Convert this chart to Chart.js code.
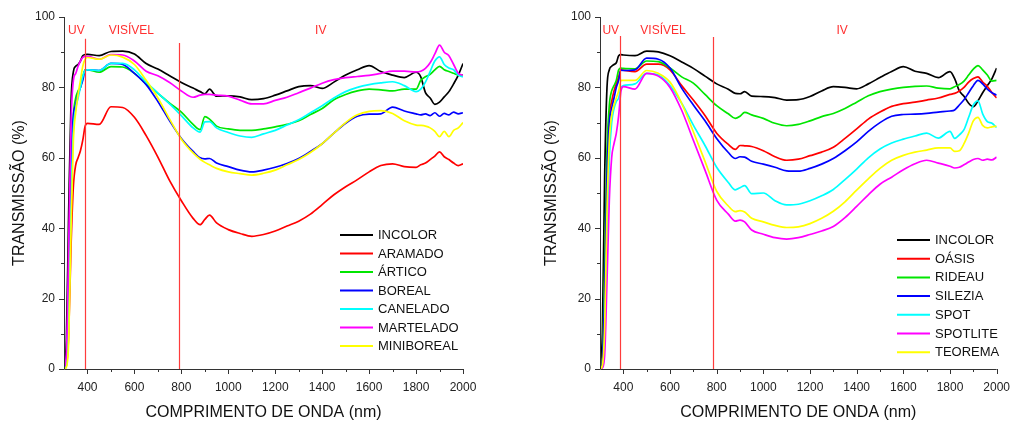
<!DOCTYPE html>
<html>
<head>
<meta charset="utf-8">
<script src="https://cdn.jsdelivr.net/npm/chart.js@4.4.1/dist/chart.umd.min.js"></script>
<style>
  body { margin: 0; background: #fff; }
  #wrap { position: relative; width: 1021px; height: 423px; }
  canvas { position: absolute; top: 0; }
</style>
</head>
<body>
<div id="wrap">
  <canvas id="left" width="510" height="423" style="left:0"></canvas>
  <canvas id="right" width="511" height="423" style="left:510px"></canvas>
</div>
<script>
// wavelength grid (nm), shared by every curve
const wavelengths = [300,310,320,330,340,350,360,370,380,390,400,
  450,500,550,600,650,700,750,800,850,
  880,900,920,950,
  1000,1050,1100,1150,1200,1250,1300,1350,1400,1450,1500,1550,1600,1650,1700,1750,1800,
  1820,1840,1860,1880,1900,1920,1940,1960,1980,2000];

// left panel
const incolorA = [0.5,8,45,76,84.5,86,86.5,87.5,89,89.3,89.4,
  89,90.2,90.3,89.5,86.8,85.2,83.3,81.4,79.8,
  78.8,78.2,79.5,77.5,
  77.6,77.3,76.5,76.8,77.8,79,80.2,80.5,79.7,81.5,83.5,85,86.2,84.5,83.5,82.8,84.3,
  83,78.5,77,75.2,75.8,77.3,78.8,81,83.5,86.8];
const aramado = [0,1,10,35,52,58,60,62,65,69,69.8,
  69.5,74.5,74.3,71.5,66.3,60.2,53.5,47.8,42.8,
  41,42.5,43.7,41.5,
  39.6,38.5,37.7,38.2,39.2,40.6,42,44,46.7,49.5,51.8,53.8,56,57.8,58.3,57.5,57.3,
  58,58.5,59.5,60.5,61.7,60.3,59.5,58.5,57.8,58.3];
const artico = [0,2,20,55,72,77,79,80,83,85,85,
  84.3,85.9,85.8,84,81,78.3,75.5,73,69.5,
  68,71.7,71,69,
  68.2,67.8,67.8,68.2,68.8,69.5,70.5,72.3,74,76.5,78,79,79.5,79.3,79,79.5,79.5,
  82,83,83.7,85,86,85,84.5,84,83.5,83.6];
const boreal = [0,2,25,58,72,75,78,80,82,84.8,85,
  84.8,86.8,86.5,84,80.8,76,70.5,65.5,61.8,
  60,59.7,59.8,58.5,
  57.5,56.5,56,56.5,57.3,58.4,59.8,61.8,64,67,69.8,71.8,72.4,72.5,74.4,73.3,72.5,
  72.2,72.5,72,72.8,71.8,72.6,72.2,73,72.5,72.8];
const canelado = [0,1,15,48,68,74,77,80,83,84.8,85,
  84.8,86.8,86.8,85,81.5,78.4,75.3,72,68.5,
  67.3,70.2,70.3,68.5,
  67.2,66.2,65.8,66.8,67.8,69.3,70.8,72.8,74.8,77,78.8,80,80.8,81.3,81.6,80.5,78.8,
  79.5,81.5,84.5,87.5,88.7,86.5,85.5,85,83.5,83];
const martelado = [0.3,4,35,70,82,84,86,87.5,88.5,88.8,88.8,
  88,89.3,89.2,87.5,84.6,83.3,81.4,79,77.2,
  77.8,78,78,77.8,
  77.5,76.4,75.3,75.3,76.3,77.2,78.5,79.8,81.2,82.2,82.8,83.1,83.4,84,84.6,84.6,84.4,
  84.6,85.4,87,89.5,92,90,89,86.5,84,83.5];
const miniboreal = [0,0.5,8,40,65,73,78,82,86,88,88.5,
  88,89.2,88.6,86.5,82,77,71,65.3,61.4,
  59.6,58.7,58,57,
  56,55.5,55.1,55.6,56.5,58,59.5,61.5,64,67,70,72.2,73.2,73.4,72.6,70.5,69.3,
  69.2,69,68.5,67.5,66,67.5,66,67.8,68.5,70];

// right panel
const incolorB = [0.5,10,55,80,85,86,86.5,87,89,89.3,89.2,
  89,90.3,90.1,89,87.2,85.4,83.2,81,79.5,
  78.3,78.2,78.8,77.5,
  77.4,77.1,76.4,76.5,77.4,79,80.2,80,79.6,81,82.8,84.5,85.9,84.6,84,82.8,84.5,
  82.5,79,77.5,75.5,74.5,76.2,78.5,80.5,82.5,85.5];
const oasis = [0,2,25,58,72,76,79,81,83,85,84.9,
  84.5,86.6,86.6,85,80.5,76.4,72,67,63.8,
  62.4,63.5,63.4,63.2,
  62,60.3,59.3,59.6,60.6,61.6,63,65.5,68.2,71,73,74.6,75.4,75.8,76.4,77,78,
  78.3,79,80,81.5,82.5,83,81.5,80.3,78.5,77];
const rideau = [0,2,30,62,75,79,80.5,82,85,85.5,85.4,
  85.3,87.5,87.3,85.5,83,81.2,78,74.8,72.5,
  71.2,71.8,72.9,72.2,
  71.2,69.8,69.1,69.5,70.5,71.7,72.6,74,75.8,77.6,78.8,79.5,80,80.3,80.4,79.8,79.6,
  80.2,80.8,81.8,83.5,85.2,86.2,85,83.5,81.8,82];
const silezia = [0,1.5,22,55,70,74,77,80,82,85,84.8,
  85,88.3,88,85.5,79.8,75,70.5,65.5,61.5,
  59.8,60.3,60.2,59,
  58.2,57.3,56.3,56.2,57,58.2,59.8,62,64.5,67.5,70,71.8,72.3,72.4,72.6,73,73.3,
  73.6,75,76.5,78.5,80.5,82,81,79.5,78.5,77.8];
const spot = [0,0.5,8,38,60,70,74,76,77,80,80.5,
  81,84,83.5,80.5,75.5,69.3,63.5,57.3,53,
  50.9,51.5,52.1,49.8,
  50,47.8,46.6,46.8,47.8,49.2,51,53.8,56.8,60,62.5,64.2,65.3,66.2,67,65.6,67.5,
  65.5,66.5,68,71.5,75,76.2,72.5,70.3,69.8,68.6];
const spotlite = [0,0.3,4,25,48,60,64,67,72,79,80.2,
  79.5,84,83.2,80,73.5,65,56.5,48,44,
  42,42.3,41.8,39.5,
  38.3,37.3,36.9,37.3,38.2,39.2,40.5,43,46.2,49.5,52.5,54.5,56.6,58.3,59.3,58.5,57.6,
  57.1,57.3,58,58.8,59.5,59.8,59.3,59.6,59.4,60.2];
const teorema = [0,1,12,45,65,72,75,77,79,82,82,
  82,84.8,84,81.5,75.5,67.4,59,50.5,46.3,
  44.7,45,44.6,42.8,
  41.8,40.8,40.2,40.4,41.3,42.8,44.8,47.5,50.8,54,57,59.3,60.7,61.6,62.2,62.8,62.8,
  61.8,62,64,67,70.5,71.5,69.2,68.5,68.8,69];

const leftNames = ['INCOLOR','ARAMADO','ÁRTICO','BOREAL','CANELADO','MARTELADO','MINIBOREAL'];
const rightNames = ['INCOLOR','OÁSIS','RIDEAU','SILEZIA','SPOT','SPOTLITE','TEOREMA'];
const colors = ['#000000','#ff0000','#00e600','#0000ff','#00ffff','#ff00ff','#ffff00'];

// spectral region borders (nm) and where the red line starts (%)
const regionNames = ['UV','VISÍVEL','IV'];
const leftBorders = [390, 788], leftBorderTops = [93.8, 92.6], leftRegionX = [353, 587, 1394];
const rightBorders = [386, 786], rightBorderTops = [94.6, 94.3], rightRegionX = [346, 570, 1338];
const regionY = 96;

const FONT = '"Liberation Sans", Arial, sans-serif';

const decor = {
  id: 'decor',
  afterDatasetsDraw(chart, args, o) {
    const ctx = chart.ctx, a = chart.chartArea;
    const x = chart.scales.x, y = chart.scales.y;
    ctx.save();

    // red region lines + names
    ctx.strokeStyle = 'rgb(255,60,60)';
    ctx.lineWidth = 1.2;
    o.borders.forEach((b, i) => {
      const px = Math.round(x.getPixelForValue(b)) + 0.5;
      ctx.beginPath();
      ctx.moveTo(px, y.getPixelForValue(o.borderTops[i]));
      ctx.lineTo(px, a.bottom);
      ctx.stroke();
    });
    ctx.fillStyle = '#ff3030';
    ctx.font = '12px ' + FONT;
    ctx.textAlign = 'center';
    ctx.textBaseline = 'middle';
    regionNames.forEach((r, i) => ctx.fillText(r, x.getPixelForValue(o.regionX[i]), y.getPixelForValue(regionY)));

    // axis lines and tick marks
    ctx.strokeStyle = '#333';
    ctx.lineWidth = 1;
    ctx.beginPath();
    ctx.moveTo(a.left + 0.5, a.top);
    ctx.lineTo(a.left + 0.5, a.bottom + 0.5);
    ctx.lineTo(a.right, a.bottom + 0.5);
    ctx.stroke();
    ctx.beginPath();
    x.ticks.forEach(t => {
      if (t.value === 300) return;
      const px = Math.round(x.getPixelForValue(t.value)) + 0.5;
      ctx.moveTo(px, a.bottom);
      ctx.lineTo(px, a.bottom + (t.value % 200 === 0 ? 5 : 3));
    });
    y.ticks.forEach(t => {
      const py = Math.round(y.getPixelForValue(t.value)) + 0.5;
      ctx.moveTo(a.left, py);
      ctx.lineTo(a.left - (t.value % 20 === 0 ? 5 : 3), py);
    });
    ctx.stroke();

    // legend
    ctx.font = '13px ' + FONT;
    ctx.textAlign = 'left';
    ctx.lineWidth = 2;
    chart.data.datasets.forEach((ds, i) => {
      const ly = o.legendY + i * o.legendStep;
      ctx.strokeStyle = ds.borderColor;
      ctx.beginPath();
      ctx.moveTo(o.legendX, ly);
      ctx.lineTo(o.legendX + 33, ly);
      ctx.stroke();
      ctx.fillStyle = '#111';
      ctx.fillText(ds.label, o.legendX + 38, ly + 0.5);
    });

    // axis titles
    ctx.fillStyle = '#111';
    ctx.font = '16px ' + FONT;
    ctx.textAlign = 'center';
    ctx.fillText('COMPRIMENTO DE ONDA (nm)', (a.left + a.right) / 2, 413);
    ctx.translate(o.yTitleX, (a.top + a.bottom) / 2);
    ctx.rotate(-Math.PI / 2);
    ctx.fillText('TRANSMISSÃO (%)', 0, 0);
    ctx.restore();
  }
};

function makeChart(id, names, series, yWidth, padRight, extra) {
  new Chart(document.getElementById(id), {
    type: 'line',
    data: {
      labels: wavelengths,
      datasets: series.map((s, i) => ({
        label: names[i],
        data: s.map((v, j) => ({ x: wavelengths[j], y: v })),
        borderColor: colors[i],
        borderWidth: 1.7,
        pointRadius: 0,
        cubicInterpolationMode: 'monotone',
        order: series.length - i
      }))
    },
    options: {
      responsive: false,
      animation: false,
      layout: { padding: { left: 0, right: padRight, top: 17, bottom: 0 } },
      plugins: { legend: { display: false }, tooltip: { enabled: false }, decor: extra },
      scales: {
        x: {
          type: 'linear', min: 300, max: 2000,
          grid: { display: false, drawTicks: false },
          border: { display: false },
          ticks: {
            stepSize: 100, autoSkip: false, maxRotation: 0, padding: 11,
            color: '#222', font: { family: FONT, size: 12 },
            callback: v => (v % 200 === 0 ? v : '')
          },
          afterFit: s => { s.height = 54; }
        },
        y: {
          min: 0, max: 100,
          grid: { display: false, drawTicks: false },
          border: { display: false },
          ticks: {
            stepSize: 10, autoSkip: false, padding: 9,
            color: '#222', font: { family: FONT, size: 12 },
            callback: v => (v % 20 === 0 ? v : '')
          },
          afterFit: s => { s.width = yWidth; }
        }
      }
    },
    plugins: [decor]
  });
}

makeChart('left', leftNames, [incolorA, aramado, artico, boreal, canelado, martelado, miniboreal], 64, 47,
  { borders: leftBorders, borderTops: leftBorderTops, regionX: leftRegionX,
    legendX: 340, legendY: 235, legendStep: 18.5, yTitleX: 20 });
makeChart('right', rightNames, [incolorB, oasis, rideau, silezia, spot, spotlite, teorema], 90, 14,
  { borders: rightBorders, borderTops: rightBorderTops, regionX: rightRegionX,
    legendX: 387, legendY: 240, legendStep: 18.7, yTitleX: 42 });
</script>
</body>
</html>
